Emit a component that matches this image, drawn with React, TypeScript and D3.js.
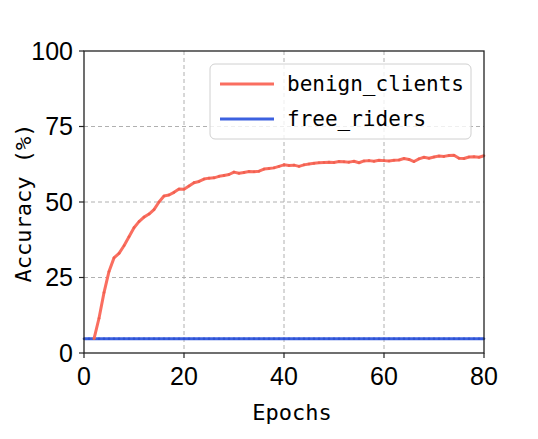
import React from 'react';
import * as d3 from 'd3';

// benign_clients accuracy, epochs 2..80
const benignStart = 2;
const benignClients = [
  4.7, 11.5, 20.0, 27.0, 31.5, 33.0, 35.5, 38.5, 41.5, 43.5,
  45.0, 46.0, 47.5, 50.0, 52.0, 52.3, 53.2, 54.3, 54.2, 55.3,
  56.4, 56.8, 57.6, 57.9, 58.0, 58.5, 58.8, 59.1, 59.9, 59.5,
  59.8, 60.1, 60.0, 60.2, 60.9, 61.1, 61.3, 61.8, 62.3, 62.1,
  62.2, 61.8, 62.3, 62.6, 62.8, 63.0, 63.1, 63.2, 63.1, 63.4,
  63.3, 63.2, 63.5, 63.0, 63.6, 63.7, 63.5, 63.8, 63.7, 63.6,
  63.8, 63.9, 64.4, 64.1, 63.4, 64.3, 64.8, 64.5, 64.9, 65.2,
  65.1, 65.4, 65.5, 64.5, 64.4, 64.9, 65.0, 64.8, 65.3,
];

// free_riders accuracy, epochs 0..80
const freeRiders = [
  4.7, 4.7, 4.7, 4.7, 4.7, 4.7, 4.7, 4.7, 4.7, 4.7,
  4.7, 4.7, 4.7, 4.7, 4.7, 4.7, 4.7, 4.7, 4.7, 4.7,
  4.7, 4.7, 4.7, 4.7, 4.7, 4.7, 4.7, 4.7, 4.7, 4.7,
  4.7, 4.7, 4.7, 4.7, 4.7, 4.7, 4.7, 4.7, 4.7, 4.7,
  4.7, 4.7, 4.7, 4.7, 4.7, 4.7, 4.7, 4.7, 4.7, 4.7,
  4.7, 4.7, 4.7, 4.7, 4.7, 4.7, 4.7, 4.7, 4.7, 4.7,
  4.7, 4.7, 4.7, 4.7, 4.7, 4.7, 4.7, 4.7, 4.7, 4.7,
  4.7, 4.7, 4.7, 4.7, 4.7, 4.7, 4.7, 4.7, 4.7, 4.7,
  4.7,
];

const xTicks = [0, 20, 40, 60, 80];
const yTicks = [0, 25, 50, 75, 100];
const seriesNames = ['benign_clients', 'free_riders'];

const W = 538;
const H = 439;
const plot = { left: 84, right: 484, top: 51, bottom: 353 };

const RED = '#fa6e60';
const BLUE = '#3c61e0';
const tickFont = '"Liberation Sans", Arial, sans-serif';
const monoFont = '"DejaVu Sans Mono", monospace';

export default function App() {
  const x = d3.scaleLinear().domain([0, 80]).range([plot.left, plot.right]);
  const y = d3.scaleLinear().domain([0, 100]).range([plot.bottom, plot.top]);

  const line = d3.line<[number, number]>()
    .x(d => x(d[0]))
    .y(d => y(d[1]));

  const benignPts: [number, number][] = benignClients.map((v, i) => [i + benignStart, v]);
  const freePts: [number, number][] = freeRiders.map((v, i) => [i, v]);

  const legendX = 210;
  const legendY = 64;

  return (
    <svg width={W} height={H} style={{ position: 'absolute', left: 0, top: 0, background: '#fff' }}>
      {/* grid */}
      {xTicks.filter(t => t > 0 && t < 80).map(t => (
        <line key={'gx' + t} x1={x(t)} x2={x(t)} y1={plot.top} y2={plot.bottom}
          stroke="#b0b0b0" strokeWidth={1} strokeDasharray="4,3" />
      ))}
      {yTicks.filter(t => t > 0 && t < 100).map(t => (
        <line key={'gy' + t} x1={plot.left} x2={plot.right} y1={y(t)} y2={y(t)}
          stroke="#b0b0b0" strokeWidth={1} strokeDasharray="4,3" />
      ))}

      {/* series */}
      <path d={line(freePts) || ''} fill="none" stroke={BLUE} strokeWidth={3} />
      {freePts.map((p, i) => (
        <circle key={'fb' + i} cx={x(p[0])} cy={y(p[1])} r={1.3} fill="#2f52d0" />
      ))}
      <path d={line(benignPts) || ''} fill="none" stroke={RED} strokeWidth={3} strokeLinejoin="round" />
      {benignPts.map((p, i) => (
        <circle key={'bn' + i} cx={x(p[0])} cy={y(p[1])} r={1.3} fill="#f0604f" />
      ))}

      {/* spines */}
      <rect x={plot.left} y={plot.top} width={plot.right - plot.left} height={plot.bottom - plot.top}
        fill="none" stroke="#222" strokeWidth={1.3} />

      {/* x ticks */}
      {xTicks.map(t => (
        <g key={'xt' + t}>
          <line x1={x(t)} x2={x(t)} y1={plot.bottom} y2={plot.bottom + 5} stroke="#222" strokeWidth={1.2} />
          <text x={x(t)} y={385} textAnchor="middle" fontFamily={tickFont} fontSize={25} fill="#000">{t}</text>
        </g>
      ))}
      {/* y ticks */}
      {yTicks.map(t => (
        <g key={'yt' + t}>
          <line x1={plot.left - 5} x2={plot.left} y1={y(t)} y2={y(t)} stroke="#222" strokeWidth={1.2} />
          <text x={73} y={y(t)} dy="0.35em" textAnchor="end" fontFamily={tickFont} fontSize={25} fill="#000">{t}</text>
        </g>
      ))}

      {/* axis labels */}
      <text x={292} y={420} textAnchor="middle" fontFamily={monoFont} fontSize={22} fill="#000">Epochs</text>
      <text transform={`translate(31,${(plot.top + plot.bottom) / 2 + 1}) rotate(-90)`} textAnchor="middle"
        fontFamily={monoFont} fontSize={22} fill="#000">Accuracy (%)</text>

      {/* legend */}
      <rect x={legendX} y={legendY} width={261} height={75} rx={5} ry={5}
        fill="#fff" fillOpacity={0.8} stroke="#d0d0d0" strokeWidth={1} />
      {seriesNames.map((name, i) => (
        <g key={name}>
          <line x1={220} x2={274} y1={84 + i * 35} y2={84 + i * 35} stroke={i === 0 ? RED : BLUE} strokeWidth={3} />
          <text x={287} y={84 + i * 35} dy="0.35em" fontFamily={monoFont} fontSize={21} fill="#000">{name}</text>
        </g>
      ))}
    </svg>
  );
}
